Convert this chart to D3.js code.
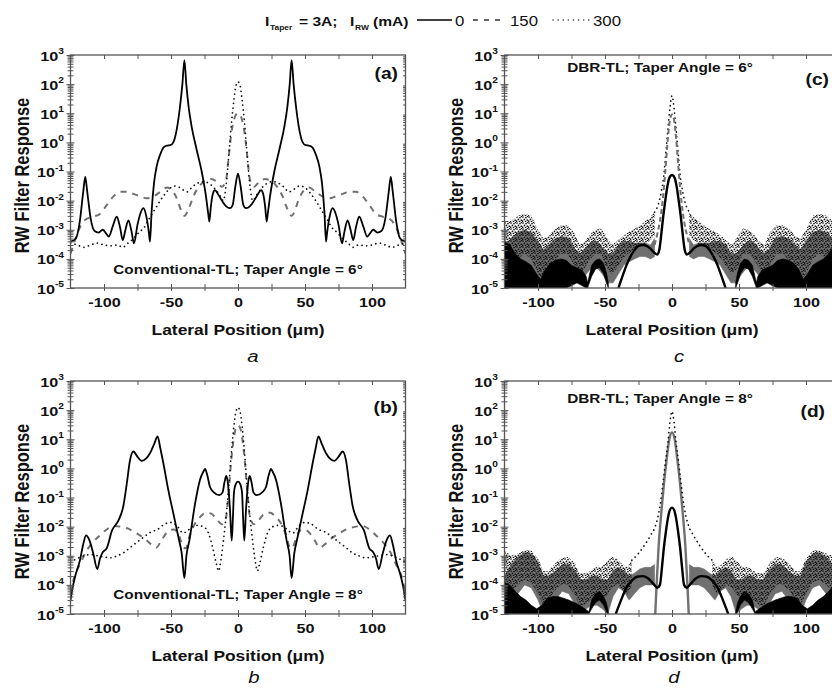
<!DOCTYPE html>
<html>
<head>
<meta charset="utf-8">
<script src="https://cdn.jsdelivr.net/npm/d3@7"></script>
<style>
  body { margin: 0; background: #fff; }
  svg { font-family: "Liberation Sans", Arial, sans-serif; }
</style>
</head>
<body>
<svg id="fig" width="832" height="691"></svg>
<script>
// ---------- data ----------
const xTickLabels = [-100, -50, 0, 50, 100];
const xTickMinor = [-100, -75, -50, -25, 0, 25, 50, 75, 100];
const yTickExps = [-5, -4, -3, -2, -1, 0, 1, 2, 3];
const legendCurrents = ["0", "150", "300"];
const panelTags = ["(a)", "(b)", "(c)", "(d)"];
const panelNotes = ["Conventional-TL; Taper Angle = 6°", "Conventional-TL; Taper Angle = 8°",
                    "DBR-TL; Taper Angle = 6°", "DBR-TL; Taper Angle = 8°"];
const panelCaptions = ["a", "b", "c", "d"];

// (a) conventional, 6 deg  [x um, response]
const a0 = [[-125,3.9e-4],[-121,5e-4],[-118,2e-3],[-115.5,0.02],[-114,0.065],[-112.5,0.02],[-110,2.5e-3],[-107,9e-4],[-104,8e-4],[-101,1e-3],[-98,7e-4],[-96.5,5.8e-4],[-93.5,1.3e-3],[-90.5,2.8e-3],[-88,1.2e-3],[-86,4.4e-4],[-84,1e-3],[-81.8,2.1e-3],[-79.5,9e-4],[-77.6,3.4e-4],[-75,1.5e-3],[-72.5,4e-3],[-70.6,5.5e-3],[-68.5,3e-3],[-66.5,8e-4],[-65.7,3.9e-4],[-64.5,4e-3],[-62.7,0.039],[-60.7,0.15],[-58.2,0.37],[-55.5,0.68],[-53,0.78],[-50.5,0.8],[-48.3,1.0],[-46,2.4],[-43.5,14],[-41.5,100],[-40,670],[-38.6,100],[-36.8,16],[-34.6,3.5],[-30.8,0.55],[-27.1,0.1],[-23.9,0.014],[-22.2,3.5e-3],[-21.4,1.9e-3],[-20.3,6e-3],[-18.8,0.017],[-17.2,0.023],[-15,0.017],[-12,0.01],[-9,6.5e-3],[-6,5.5e-3],[-4,7e-3],[-2,0.03],[0,0.085],
  [2,0.03],[4,7e-3],[6,5.5e-3],[9,6.5e-3],[12,0.01],[15,0.017],[17.2,0.023],[18.8,0.017],[20.3,6e-3],[21.4,1.9e-3],[22.2,3.5e-3],[23.9,0.014],[27.1,0.1],[30.8,0.55],[34.6,3.5],[36.8,16],[38.6,100],[40,670],[41.5,100],[43.5,14],[46,2.4],[48.3,1.0],[50.5,0.8],[53,0.78],[55.5,0.68],[58.2,0.37],[60.7,0.15],[62.7,0.039],[64.5,4e-3],[65.7,3.9e-4],[66.5,8e-4],[68.5,3e-3],[70.6,5.5e-3],[72.5,4e-3],[75,1.5e-3],[77.6,3.4e-4],[79.5,9e-4],[81.8,2.1e-3],[84,1e-3],[86,4.4e-4],[88,1.2e-3],[90.5,2.8e-3],[93.5,1.3e-3],[96.5,5.8e-4],[98,7e-4],[101,1e-3],[104,8e-4],[107,9e-4],[110,2.5e-3],[112.5,0.02],[114,0.065],[115.5,0.02],[118,2e-3],[121,5e-4],[125,3.9e-4]];
const a150 = [[-125,1.5e-4],[-122,4e-4],[-118,1.2e-3],[-114,2.2e-3],[-108,2.8e-3],[-103,3.5e-3],[-98,7e-3],[-93,0.014],[-88,0.02],[-83,0.02],[-78,0.017],[-73,0.014],[-68,0.012],[-63,0.014],[-58,0.02],[-53,0.028],[-49,0.022],[-45,0.01],[-42,4e-3],[-40,3e-3],[-37,5e-3],[-33,0.015],[-28,0.035],[-24,0.05],[-20,0.055],[-16,0.045],[-12,0.03],[-9,0.05],[-7,0.3],[-5,2],[-3,6],[-1.5,9],[0,10],
  [1.5,9],[3,6],[5,2],[7,0.3],[9,0.05],[12,0.03],[16,0.045],[20,0.055],[24,0.05],[28,0.035],[33,0.015],[37,5e-3],[40,3e-3],[42,4e-3],[45,0.01],[49,0.022],[53,0.028],[58,0.02],[63,0.014],[68,0.012],[73,0.014],[78,0.017],[83,0.02],[88,0.02],[93,0.014],[98,7e-3],[103,3.5e-3],[108,2.8e-3],[114,2.2e-3],[118,1.2e-3],[122,4e-4],[125,1.5e-4]];
const a300 = [[-125,3.5e-4],[-120,3e-4],[-115,2.5e-4],[-110,3e-4],[-105,3.5e-4],[-100,3e-4],[-95,2.8e-4],[-90,3e-4],[-86,2.5e-4],[-82,3.5e-4],[-78,5e-4],[-74,8e-4],[-70,1.2e-3],[-66,2.5e-3],[-62,5e-3],[-58,0.01],[-54,0.018],[-50,0.028],[-46,0.032],[-42,0.025],[-38,0.02],[-34,0.03],[-30,0.04],[-26,0.045],[-22,0.04],[-18,0.028],[-14,0.016],[-11,0.01],[-9,0.03],[-7,0.3],[-5,4],[-3,30],[-1.5,90],[0,120],
  [1.5,90],[3,30],[5,4],[7,0.3],[9,0.03],[11,0.01],[14,0.016],[18,0.028],[22,0.04],[26,0.045],[30,0.04],[34,0.03],[38,0.02],[42,0.025],[46,0.032],[50,0.028],[54,0.018],[58,0.01],[62,5e-3],[66,2.5e-3],[70,1.2e-3],[74,8e-4],[78,5e-4],[82,3.5e-4],[86,2.5e-4],[90,3e-4],[95,2.8e-4],[100,3e-4],[105,3.5e-4],[110,3e-4],[115,2.5e-4],[120,3e-4],[125,3.5e-4]];

// (b) conventional, 8 deg
const b0 = [[-125,3e-5],[-123,1e-4],[-121,2.4e-4],[-118,6.8e-4],[-115.5,2.5e-3],[-113.4,5e-3],[-111,3.5e-3],[-108,1.2e-3],[-105,3.5e-4],[-103,8e-4],[-101,1.3e-3],[-98,1.8e-3],[-94,7.4e-3],[-89.3,0.016],[-85.6,0.05],[-83,0.3],[-80.5,2],[-78.1,3.8],[-75,2.5],[-71.9,1.8],[-68.5,2.2],[-65.7,3.3],[-62.5,7],[-60,12.6],[-58,5],[-55.7,1.5],[-52,0.18],[-48.3,0.029],[-44.5,4.4e-3],[-42,1.2e-3],[-40,1.7e-4],[-38.5,1e-3],[-36.3,3.3e-3],[-32,0.063],[-28.4,0.4],[-26,0.75],[-24.6,0.95],[-23,0.6],[-20.9,0.23],[-18,0.15],[-14,0.12],[-11.5,0.15],[-10,0.35],[-8.7,0.55],[-7.5,0.3],[-6,0.04],[-4.7,3.3e-3],[-3.8,0.02],[-3,0.15],[-1.5,0.3],[0,0.35],
  [1.5,0.3],[3,0.15],[3.8,0.02],[4.7,3.3e-3],[6,0.04],[7.5,0.3],[8.7,0.55],[10,0.35],[11.5,0.15],[14,0.12],[18,0.15],[20.9,0.23],[23,0.6],[24.6,0.95],[26,0.75],[28.4,0.4],[32,0.063],[36.3,3.3e-3],[38.5,1e-3],[40,1.7e-4],[42,1.2e-3],[44.5,4.4e-3],[48.3,0.029],[52,0.18],[55.7,1.5],[58,5],[60,12.6],[62.5,7],[65.7,3.3],[68.5,2.2],[71.9,1.8],[75,2.5],[78.1,3.8],[80.5,2],[83,0.3],[85.6,0.05],[89.3,0.016],[94,7.4e-3],[98,1.8e-3],[101,1.3e-3],[103,8e-4],[105,3.5e-4],[108,1.2e-3],[111,3.5e-3],[113.4,5e-3],[115.5,2.5e-3],[118,6.8e-4],[121,2.4e-4],[123,1e-4],[125,3e-5]];
const b150 = [[-125,5e-5],[-122,2e-4],[-118,5e-4],[-113,1.5e-3],[-108,3e-3],[-103,5e-3],[-98,8e-3],[-93,0.0105],[-88,0.01],[-82,8.5e-3],[-76,6e-3],[-70,4e-3],[-65,2.5e-3],[-61,1.9e-3],[-57,3.5e-3],[-52,7e-3],[-48,8e-3],[-44,5e-3],[-41,2e-3],[-39,1.8e-3],[-36,5e-3],[-32,0.013],[-28,0.022],[-24,0.03],[-20,0.028],[-16,0.018],[-12,0.012],[-9,0.02],[-7,0.15],[-5,2],[-3,12],[-1.5,25],[0,30],
  [1.5,25],[3,12],[5,2],[7,0.15],[9,0.02],[12,0.012],[16,0.018],[20,0.028],[24,0.03],[28,0.022],[32,0.013],[36,5e-3],[39,1.8e-3],[41,2e-3],[44,5e-3],[48,8e-3],[52,7e-3],[57,3.5e-3],[61,1.9e-3],[65,2.5e-3],[70,4e-3],[76,6e-3],[82,8.5e-3],[88,0.01],[93,0.0105],[98,8e-3],[103,5e-3],[108,3e-3],[113,1.5e-3],[118,5e-4],[122,2e-4],[125,5e-5]];
const b300 = [[-125,6e-4],[-120,8e-4],[-115,1e-3],[-110,1.1e-3],[-105,1e-3],[-100,9e-4],[-95,8.5e-4],[-90,1e-3],[-85,1.3e-3],[-80,2e-3],[-75,3e-3],[-70,4.5e-3],[-65,6.5e-3],[-60,8e-3],[-55,0.012],[-50,0.014],[-45,0.01],[-41,6e-3],[-38,7e-3],[-34,0.01],[-30,0.011],[-26,0.01],[-22,6e-3],[-19,2e-3],[-16,5e-4],[-14.5,3e-4],[-13,6e-4],[-11,3e-3],[-9,0.02],[-7,0.2],[-5,3],[-3,30],[-1.5,90],[0,123],
  [1.5,90],[3,30],[5,3],[7,0.2],[9,0.02],[11,3e-3],[13,6e-4],[14.5,3e-4],[16,5e-4],[19,2e-3],[22,6e-3],[26,0.01],[30,0.011],[34,0.01],[38,7e-3],[41,6e-3],[45,0.01],[50,0.014],[55,0.012],[60,8e-3],[65,6.5e-3],[70,4.5e-3],[75,3e-3],[80,2e-3],[85,1.3e-3],[90,1e-3],[95,8.5e-4],[100,9e-4],[105,1e-3],[110,1.1e-3],[115,1e-3],[120,8e-4],[125,6e-4]];

// (c) DBR, 6 deg: smooth core lines [x, v] and noisy bands [x, low, high]
const c0Core = [[-40,1e-5],[-37,2.5e-5],[-34,6e-5],[-31,1.2e-4],[-28,2e-4],[-25,2.8e-4],[-22,3e-4],[-19,2.8e-4],[-16,2.2e-4],[-13,1.6e-4],[-11,1.4e-4],[-9.5,2e-4],[-8,7e-4],[-6.5,3e-3],[-5,0.01],[-3.5,0.03],[-2,0.06],[0,0.076],[2,0.06],[3.5,0.03],[5,0.01],[6.5,3e-3],[8,7e-4],[9.5,2e-4],[11,1.4e-4],[13,1.6e-4],[16,2.2e-4],[19,2.8e-4],[22,3e-4],[25,2.8e-4],[28,2e-4],[31,1.2e-4],[34,6e-5],[37,2.5e-5],[40,1e-5]];
const c0BandL = [[-125,1e-5,4e-4],[-121,1e-5,3e-4],[-117,1e-5,1.5e-4],[-113,1e-5,1e-4],[-109,1e-5,8e-5],[-105,1e-5,6e-5],[-101,1e-5,3e-5],[-98,1e-5,2e-5],[-95,1e-5,4e-5],[-91,1e-5,7e-5],[-87,1e-5,9e-5],[-83,1e-5,1e-4],[-79,1e-5,9e-5],[-75,1.2e-5,6e-5],[-71,1.5e-5,5e-5],[-67,1.2e-5,4e-5],[-64,1e-5,2.5e-5],[-63,1e-5,1.5e-5],[-60,2.5e-5,6e-5],[-57,4.5e-5,9e-5],[-54,5e-5,1e-4],[-51,3e-5,7e-5],[-49,1.5e-5,3.5e-5],[-47.5,1e-5,1.5e-5]];
const c0BandR = [[47.5,1e-5,1.5e-5],[49,1.5e-5,3.5e-5],[51,3e-5,7e-5],[54,5e-5,1e-4],[57,4.5e-5,9e-5],[60,2.5e-5,6e-5],[63,1e-5,1.5e-5],[64,1e-5,2.5e-5],[67,1.2e-5,4e-5],[71,1.5e-5,5e-5],[75,1.2e-5,6e-5],[79,1e-5,9e-5],[83,1e-5,1e-4],[87,1e-5,9e-5],[91,1e-5,7e-5],[95,1e-5,4e-5],[98,1e-5,2e-5],[101,1e-5,3e-5],[105,1e-5,6e-5],[109,1e-5,8e-5],[113,1e-5,1e-4],[117,1e-5,1.5e-4],[121,1e-5,3e-4],[125,1e-5,4e-4]];
const c150Core = [[-13,3e-4],[-11,7e-4],[-9,2e-3],[-7,0.01],[-5,0.1],[-3,1.5],[-1.5,6],[0,9],[1.5,6],[3,1.5],[5,0.1],[7,0.01],[9,2e-3],[11,7e-4],[13,3e-4]];
const c150BandL = [[-125,1e-5,3e-4],[-120,1e-5,5e-4],[-115,2e-5,8e-4],[-110,3e-5,1e-3],[-105,2e-5,8e-4],[-100,1e-5,4e-4],[-96,1e-5,2e-4],[-92,1.5e-5,3e-4],[-87,3e-5,5e-4],[-82,4e-5,6e-4],[-77,3e-5,5e-4],[-72,1.5e-5,2e-4],[-68,1.5e-5,1.5e-4],[-64,3e-5,2.5e-4],[-60,5e-5,4e-4],[-56,5e-5,4e-4],[-52,3e-5,2.5e-4],[-48,1.5e-5,1.5e-4],[-44,1.5e-5,1.5e-4],[-40,3e-5,3e-4],[-36,6e-5,4e-4],[-32,8e-5,4e-4],[-28,1e-4,3.5e-4],[-24,1.2e-4,3.5e-4],[-20,1.2e-4,3.5e-4],[-16,1e-4,3e-4],[-13,1.2e-4,5e-4]];
const c150BandR = [[13,1.2e-4,5e-4],[16,1e-4,3e-4],[20,1.2e-4,3.5e-4],[24,1.2e-4,3.5e-4],[28,1e-4,3.5e-4],[32,8e-5,4e-4],[36,6e-5,4e-4],[40,3e-5,3e-4],[44,1.5e-5,1.5e-4],[48,1.5e-5,1.5e-4],[52,3e-5,2.5e-4],[56,5e-5,4e-4],[60,5e-5,4e-4],[64,3e-5,2.5e-4],[68,1.5e-5,1.5e-4],[72,1.5e-5,2e-4],[77,3e-5,5e-4],[82,4e-5,6e-4],[87,3e-5,5e-4],[92,1.5e-5,3e-4],[96,1e-5,2e-4],[100,1e-5,4e-4],[105,2e-5,8e-4],[110,3e-5,1e-3],[115,2e-5,8e-4],[120,1e-5,5e-4],[125,1e-5,3e-4]];
const c300Core = [[-13,4e-3],[-10,8e-3],[-8,0.02],[-6,0.08],[-4.5,0.5],[-3,3],[-1.5,15],[0,40],[1.5,15],[3,3],[4.5,0.5],[6,0.08],[8,0.02],[10,8e-3],[13,4e-3]];
const c300BandL = [[-125,2e-5,2e-3],[-120,5e-5,2e-3],[-115,1e-4,3e-3],[-110,1.5e-4,3.5e-3],[-105,1e-4,3e-3],[-100,3e-5,1e-3],[-96,2e-5,5e-4],[-92,3e-5,6e-4],[-88,8e-5,1e-3],[-83,1.5e-4,1.4e-3],[-78,1.5e-4,1.4e-3],[-73,6e-5,8e-4],[-69,3e-5,3e-4],[-65,5e-5,4e-4],[-61,1e-4,7e-4],[-57,1.5e-4,1e-3],[-53,1.5e-4,1.1e-3],[-49,5e-5,6e-4],[-45,3e-5,3e-4],[-41,5e-5,4e-4],[-37,1e-4,6e-4],[-33,1.5e-4,8e-4],[-29,2e-4,1e-3],[-25,2.5e-4,1.3e-3],[-21,3e-4,1.8e-3],[-17,4e-4,2.5e-3],[-13,6e-4,4e-3]];
const c300BandR = [[13,6e-4,4e-3],[17,4e-4,2.5e-3],[21,3e-4,1.8e-3],[25,2.5e-4,1.3e-3],[29,2e-4,1e-3],[33,1.5e-4,8e-4],[37,1e-4,6e-4],[41,5e-5,4e-4],[45,3e-5,3e-4],[49,5e-5,6e-4],[53,1.5e-4,1.1e-3],[57,1.5e-4,1e-3],[61,1e-4,7e-4],[65,5e-5,4e-4],[69,3e-5,3e-4],[73,6e-5,8e-4],[78,1.5e-4,1.4e-3],[83,1.5e-4,1.4e-3],[88,8e-5,1e-3],[92,3e-5,6e-4],[96,2e-5,5e-4],[100,3e-5,1e-3],[105,1e-4,3e-3],[110,1.5e-4,3.5e-3],[115,1e-4,3e-3],[120,5e-5,2e-3],[125,2e-5,2e-3]];

// (d) DBR, 8 deg
const d0Core = [[-42,1e-5],[-38,3e-5],[-34,8e-5],[-30,1.4e-4],[-26,1.9e-4],[-22,2e-4],[-18,1.7e-4],[-14,1.1e-4],[-11,8e-5],[-9,1e-4],[-7.5,4e-4],[-6,2e-3],[-4.5,7e-3],[-3,0.02],[-1.5,0.038],[0,0.045],[1.5,0.038],[3,0.02],[4.5,7e-3],[6,2e-3],[7.5,4e-4],[9,1e-4],[11,8e-5],[14,1.1e-4],[18,1.7e-4],[22,2e-4],[26,1.9e-4],[30,1.4e-4],[34,8e-5],[38,3e-5],[42,1e-5]];
const d0BandL = [[-125,1e-5,1.2e-4],[-121,1e-5,1e-4],[-117,1e-5,6e-5],[-113,1e-5,4e-5],[-109,1e-5,3e-5],[-105,1e-5,2e-5],[-101,1e-5,1.5e-5],[-97,1e-5,2e-5],[-93,1e-5,3.5e-5],[-89,1e-5,4e-5],[-85,1e-5,4e-5],[-81,1e-5,3.5e-5],[-77,1e-5,3e-5],[-73,1e-5,2.5e-5],[-69,1e-5,2e-5],[-65,1e-5,1.5e-5],[-62,1e-5,1.2e-5],[-60,1.5e-5,3e-5],[-57,2.5e-5,5e-5],[-54,3e-5,6e-5],[-51,2e-5,4e-5],[-49,1.2e-5,2.5e-5],[-47.5,1e-5,1.2e-5]];
const d0BandR = [[47.5,1e-5,1.2e-5],[49,1.2e-5,2.5e-5],[51,2e-5,4e-5],[54,3e-5,6e-5],[57,2.5e-5,5e-5],[60,1.5e-5,3e-5],[62,1e-5,1.2e-5],[65,1e-5,1.5e-5],[69,1e-5,2e-5],[73,1e-5,2.5e-5],[77,1e-5,3e-5],[81,1e-5,3.5e-5],[85,1e-5,4e-5],[89,1e-5,4e-5],[93,1e-5,3.5e-5],[97,1e-5,2e-5],[101,1e-5,1.5e-5],[105,1e-5,2e-5],[109,1e-5,3e-5],[113,1e-5,4e-5],[117,1e-5,6e-5],[121,1e-5,1e-4],[125,1e-5,1.2e-4]];
const d150Core = [[-12.5,1e-5],[-11.5,1e-4],[-10,2e-3],[-8,0.03],[-6,0.3],[-4,2],[-2,10],[0,17],[2,10],[4,2],[6,0.3],[8,0.03],[10,2e-3],[11.5,1e-4],[12.5,1e-5]];
const d150BandL = [[-125,1e-5,2e-4],[-120,2e-5,5e-4],[-115,5e-5,9e-4],[-110,1e-4,1.3e-3],[-105,8e-5,1.2e-3],[-100,3e-5,6e-4],[-96,1e-5,2e-4],[-92,1.5e-5,2e-4],[-87,3e-5,3e-4],[-82,6e-5,5e-4],[-77,5e-5,5e-4],[-72,2e-5,3e-4],[-68,1e-5,1.5e-4],[-64,1.5e-5,1.5e-4],[-60,2e-5,2e-4],[-56,2e-5,2e-4],[-52,1.5e-5,1.5e-4],[-48,1e-5,1.5e-4],[-44,4e-5,3e-4],[-40,8e-5,4e-4],[-36,6e-5,3e-4],[-32,3e-5,2e-4],[-28,5e-5,2.5e-4],[-24,8e-5,3.5e-4],[-20,1e-4,4e-4],[-16,1e-4,4e-4],[-13,1e-4,5e-4]];
const d150BandR = [[13,1e-4,5e-4],[16,1e-4,4e-4],[20,1e-4,4e-4],[24,8e-5,3.5e-4],[28,5e-5,2.5e-4],[32,3e-5,2e-4],[36,6e-5,3e-4],[40,8e-5,4e-4],[44,4e-5,3e-4],[48,1e-5,1.5e-4],[52,1.5e-5,1.5e-4],[56,2e-5,2e-4],[60,2e-5,2e-4],[64,1.5e-5,1.5e-4],[68,1e-5,1.5e-4],[72,2e-5,3e-4],[77,5e-5,5e-4],[82,6e-5,5e-4],[87,3e-5,3e-4],[92,1.5e-5,2e-4],[96,1e-5,2e-4],[100,3e-5,6e-4],[105,8e-5,1.2e-3],[110,1e-4,1.3e-3],[115,5e-5,9e-4],[120,2e-5,5e-4],[125,1e-5,2e-4]];
const d300Core = [[-30,7e-4],[-25,1.2e-3],[-20,2.5e-3],[-16,5e-3],[-12,0.012],[-9,0.05],[-7,0.25],[-5,1.5],[-3,8],[-1.5,40],[0,90],[1.5,40],[3,8],[5,1.5],[7,0.25],[9,0.05],[12,0.012],[16,5e-3],[20,2.5e-3],[25,1.2e-3],[30,7e-4]];
const d300BandL = [[-125,3e-5,1.5e-3],[-120,6e-5,1e-3],[-115,1e-4,1.2e-3],[-110,1.5e-4,1.5e-3],[-105,1.2e-4,1.5e-3],[-100,5e-5,8e-4],[-96,2e-5,3e-4],[-92,3e-5,3e-4],[-88,6e-5,5e-4],[-83,1e-4,8e-4],[-78,1e-4,9e-4],[-73,5e-5,6e-4],[-69,2e-5,2.5e-4],[-65,2e-5,2.5e-4],[-61,3e-5,3e-4],[-57,4e-5,4e-4],[-53,3e-5,4e-4],[-49,4e-5,6e-4],[-45,8e-5,9e-4],[-41,1e-4,8e-4],[-37,7e-5,5e-4],[-33,5e-5,4e-4],[-30,1e-4,7e-4]];
const d300BandR = [[30,1e-4,7e-4],[33,5e-5,4e-4],[37,7e-5,5e-4],[41,1e-4,8e-4],[45,8e-5,9e-4],[49,4e-5,6e-4],[53,3e-5,4e-4],[57,4e-5,4e-4],[61,3e-5,3e-4],[65,2e-5,2.5e-4],[69,2e-5,2.5e-4],[73,5e-5,6e-4],[78,1e-4,9e-4],[83,1e-4,8e-4],[88,6e-5,5e-4],[92,3e-5,3e-4],[96,2e-5,3e-4],[100,5e-5,8e-4],[105,1.2e-4,1.5e-3],[110,1.5e-4,1.5e-3],[115,1e-4,1.2e-3],[120,6e-5,1e-3],[125,3e-5,1.5e-3]];

// ---------- layout ----------
const SX = 1.2;           // the source figure is stretched sideways
const PW = 335, PH = 233;
const boxes = [
  { left: 70.5,  top: 55,  tag: [398, 79],  note: [238, 273.5], cap: [253, 361.5] },
  { left: 70.5,  top: 381, tag: [398, 413], note: [238, 599],   cap: [254, 683] },
  { left: 504.5, top: 55,  tag: [829, 85],  note: [660, 72],    cap: [679, 361.5] },
  { left: 504.5, top: 381, tag: [825, 417], note: [660, 403],   cap: [674, 683] }
];
const GREY = "#707070", FRAME = "#555";

const svg = d3.select("#fig");
const defs = svg.append("defs");
// speckle texture for the 300 mA noise band
const stip = defs.append("pattern").attr("id", "stip").attr("patternUnits", "userSpaceOnUse")
  .attr("width", 6).attr("height", 6);
[[1, 1], [4, 1.6], [2.4, 3.4], [5.3, 4.2], [0.6, 5.2], [3.5, 5.6], [5.6, 0.3]].forEach(p =>
  stip.append("circle").attr("cx", p[0]).attr("cy", p[1]).attr("r", 0.85).attr("fill", "#111"));

function label(g, x, y, str, o = {}) {
  return g.append("g")
    .attr("transform", `translate(${x},${y}) scale(${SX},1)` + (o.rotate ? ` rotate(${o.rotate})` : ""))
    .append("text")
    .attr("font-size", o.size || 12.5)
    .attr("font-weight", o.weight || "bold")
    .attr("font-style", o.style || "normal")
    .attr("text-anchor", o.anchor || "start")
    .attr("fill", "#111")
    .text(str);
}

function drawPanel(i, series) {
  const b = boxes[i];
  const x = d3.scaleLinear().domain([-125, 125]).range([b.left, b.left + PW]);
  const y = d3.scaleLog().domain([1e-5, 1e3]).range([b.top + PH, b.top]);
  const g = svg.append("g");

  const clipId = "clip" + i;
  defs.append("clipPath").attr("id", clipId)
    .append("rect").attr("x", b.left).attr("y", b.top).attr("width", PW).attr("height", PH);
  const plot = g.append("g").attr("clip-path", `url(#${clipId})`);

  const line = d3.line().x(d => x(d[0])).y(d => y(d[1])).curve(d3.curveMonotoneX);
  const area = d3.area().x(d => x(d[0])).y0(d => y(d[1])).y1(d => y(d[2]));

  series.forEach(s => {
    if (s.band) {
      const p = plot.append("path").attr("d", area(s.data)).attr("fill", s.fill);
      if (s.fill !== "url(#stip)") p.attr("stroke", s.fill).attr("stroke-width", 0.6);
    } else {
      const p = plot.append("path").attr("d", line(s.data)).attr("fill", "none")
        .attr("stroke", s.color).attr("stroke-width", s.width || 1.8)
        .attr("stroke-linejoin", "round");
      if (s.dash) p.attr("stroke-dasharray", s.dash);
      if (s.cap) p.attr("stroke-linecap", s.cap);
    }
  });

  // frame
  g.append("rect").attr("x", b.left).attr("y", b.top).attr("width", PW).attr("height", PH)
    .attr("fill", "none").attr("stroke", FRAME).attr("stroke-width", 1.3);

  const styleAxis = sel => {
    sel.select(".domain").remove();
    sel.selectAll(".tick line").attr("stroke", FRAME).attr("stroke-width", 1);
  };

  // y ticks: decades plus 2..9 minors, crossing the left axis, inward on the right
  const majors = yTickExps.map(e => Math.pow(10, e));
  const minors = [];
  yTickExps.slice(0, -1).forEach(e => { for (let k = 2; k <= 9; k++) minors.push(k * Math.pow(10, e)); });

  g.append("g").attr("transform", `translate(${b.left},0)`)
    .call(d3.axisLeft(y).tickValues(minors).tickSize(3).tickFormat("")).call(styleAxis);
  g.append("g").attr("transform", `translate(${b.left},0)`)
    .call(d3.axisRight(y).tickValues(minors).tickSize(3).tickFormat("")).call(styleAxis);
  g.append("g").attr("transform", `translate(${b.left},0)`)
    .call(d3.axisRight(y).tickValues(majors).tickSize(4).tickFormat("")).call(styleAxis);
  const yAx = g.append("g").attr("transform", `translate(${b.left},0)`)
    .call(d3.axisLeft(y).tickValues(majors).tickSize(4).tickFormat("")).call(styleAxis);
  yAx.selectAll(".tick").each(function (d, j) {
    const t = label(d3.select(this), -6.5, 5, "", { size: 13.5, anchor: "end" });
    t.append("tspan").text("10");
    t.append("tspan").attr("dy", -6.5).attr("font-size", 8.5).text(String(yTickExps[j]));
  });
  g.append("g").attr("transform", `translate(${b.left + PW},0)`)
    .call(d3.axisLeft(y).tickValues(minors).tickSize(2.5).tickFormat("")).call(styleAxis);

  // x ticks every 25, labels every 50
  g.append("g").attr("transform", `translate(0,${b.top})`)
    .call(d3.axisBottom(x).tickValues(xTickMinor).tickSize(4).tickFormat("")).call(styleAxis);
  g.append("g").attr("transform", `translate(0,${b.top + PH})`)
    .call(d3.axisTop(x).tickValues(xTickMinor).tickSize(4).tickFormat("")).call(styleAxis);
  const xAx = g.append("g").attr("transform", `translate(0,${b.top + PH})`)
    .call(d3.axisBottom(x).tickValues(xTickMinor).tickSize(3).tickFormat("")).call(styleAxis);
  xAx.selectAll(".tick").filter(d => xTickLabels.includes(d)).each(function (d) {
    label(d3.select(this), 0, 18.5, String(d), { size: 13.5, anchor: "middle" });
  });

  // titles and labels
  label(g, b.left - 41.5, b.top + PH / 2 + 4, "RW Filter Response", { size: 16.5, anchor: "middle", rotate: -90 });
  label(g, x(0), b.top + PH + 47, "Lateral Position (\u03bcm)", { size: 14.5, anchor: "middle" });
  label(g, b.tag[0], b.tag[1], panelTags[i], { size: 16, anchor: "end" });
  label(g, b.note[0], b.note[1], panelNotes[i], { size: 12.8, anchor: "middle" });
  label(g, b.cap[0], b.cap[1], panelCaptions[i], { size: 17, weight: "normal", style: "italic", anchor: "middle" });
}

const solid = (d, w) => ({ data: d, color: "#000", width: w || 1.8 });
const dashed = d => ({ data: d, color: GREY, width: 2, dash: "6 6" });
const dotted = d => ({ data: d, color: "#111", width: 1.7, dash: "0.1 4.6", cap: "round" });
const band = (d, fill) => ({ data: d, band: true, fill });

drawPanel(0, [dashed(a150), dotted(a300), solid(a0)]);
drawPanel(1, [dashed(b150), dotted(b300), solid(b0)]);
drawPanel(2, [band(c150BandL, GREY), band(c150BandR, GREY), band(c300BandL, "url(#stip)"), band(c300BandR, "url(#stip)"),
              band(c0BandL, "#000"), band(c0BandR, "#000"),
              dotted(c300Core), { data: c150Core, color: GREY, width: 2, dash: "5 3" }, solid(c0Core, 2.4)]);
drawPanel(3, [band(d150BandL, GREY), band(d150BandR, GREY), band(d300BandL, "url(#stip)"), band(d300BandR, "url(#stip)"),
              band(d0BandL, "#000"), band(d0BandR, "#000"),
              { data: d150Core, color: GREY, width: 2.4 }, dotted(d300Core), solid(d0Core, 2.4)]);

// legend
const lg = svg.append("g");
label(lg, 265, 26, "I", { size: 13 });
label(lg, 270, 29.5, "Taper", { size: 7 });
label(lg, 299, 26, "= 3A;", { size: 13 });
label(lg, 350, 26, "I", { size: 13 });
label(lg, 355, 29.5, "RW", { size: 7 });
label(lg, 373, 26, "(mA)", { size: 13 });
const keys = [
  { x1: 417, x2: 452, tx: 455, stroke: "#000", w: 1.6 },
  { x1: 473, x2: 505, tx: 510, stroke: "#333", w: 1.4, dash: "5 6" },
  { x1: 553, x2: 590, tx: 593, stroke: "#333", w: 1.5, dash: "0.1 5", cap: "round" }
];
keys.forEach((k, i) => {
  const l = lg.append("line").attr("x1", k.x1).attr("x2", k.x2).attr("y1", 20).attr("y2", 20)
    .attr("stroke", k.stroke).attr("stroke-width", k.w);
  if (k.dash) l.attr("stroke-dasharray", k.dash);
  if (k.cap) l.attr("stroke-linecap", k.cap);
  label(lg, k.tx, 26, legendCurrents[i], { size: 14, weight: "normal" });
});
</script>
</body>
</html>
